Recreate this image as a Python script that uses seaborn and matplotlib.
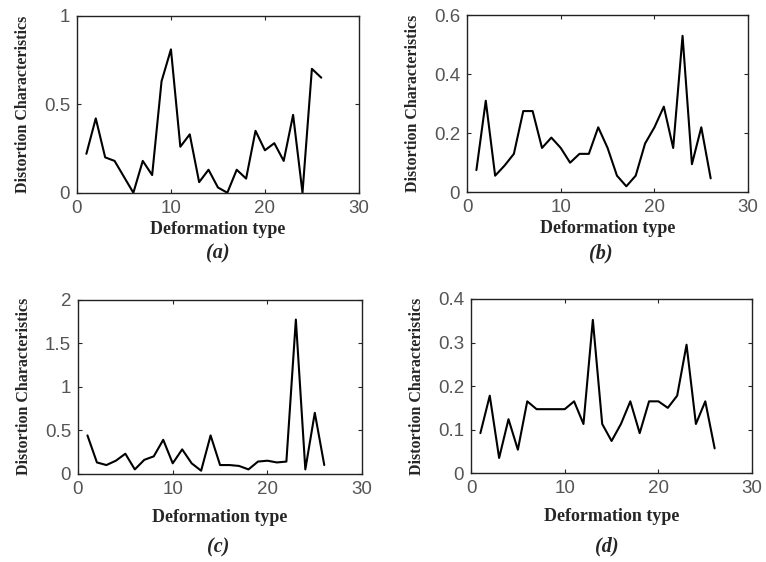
import matplotlib
matplotlib.use("Agg")
import matplotlib.pyplot as plt
from matplotlib.ticker import FuncFormatter, MultipleLocator
import seaborn as sns

### Data ###
deformation_type = list(range(1, 27))

values_a = [0.22, 0.42, 0.20, 0.18, 0.09, 0.00, 0.18, 0.10, 0.63, 0.81,
            0.26, 0.33, 0.06, 0.13, 0.03, 0.00, 0.13, 0.08, 0.35, 0.24,
            0.28, 0.18, 0.44, 0.00, 0.70, 0.65]
values_b = [0.075, 0.31, 0.056, 0.09, 0.13, 0.275, 0.275, 0.15, 0.185, 0.15,
            0.10, 0.13, 0.13, 0.22, 0.15, 0.056, 0.02, 0.056, 0.165, 0.22,
            0.29, 0.15, 0.53, 0.095, 0.22, 0.047]
values_c = [0.44, 0.13, 0.10, 0.15, 0.23, 0.05, 0.16, 0.20, 0.39, 0.12,
            0.28, 0.12, 0.035, 0.44, 0.10, 0.10, 0.09, 0.05, 0.14, 0.15,
            0.13, 0.14, 1.77, 0.05, 0.70, 0.10]
values_d = [0.092, 0.178, 0.035, 0.124, 0.054, 0.165, 0.147, 0.147, 0.147, 0.147,
            0.165, 0.113, 0.352, 0.113, 0.074, 0.113, 0.165, 0.092, 0.165, 0.165,
            0.15, 0.178, 0.295, 0.113, 0.165, 0.057]

panel_labels = ["(a)", "(b)", "(c)", "(d)"]
y_limits = [1.0, 0.6, 2.0, 0.4]
y_steps = [0.5, 0.2, 0.5, 0.1]

sns.set_style("ticks")
plt.rcParams['font.family'] = ['Liberation Sans', 'DejaVu Sans']

fig = plt.figure(figsize=(7.66, 5.62), dpi=100)

# axes boxes in figure fractions (left, bottom, width, height)
boxes = [
    [0.1005, 0.657, 0.368, 0.315],
    [0.6097, 0.658, 0.367, 0.315],
    [0.1018, 0.157, 0.371, 0.310],
    [0.6149, 0.158, 0.367, 0.310],
]
label_pos = [(0.284, 0.549), (0.785, 0.549), (0.285, 0.025), (0.792, 0.027)]
xlabel_pads = [3, 3, 8, 8]

all_values = [values_a, values_b, values_c, values_d]
serif = ['Liberation Serif', 'DejaVu Serif']

for box, vals, ymax, ystep, lab, lpos, xpad in zip(boxes, all_values, y_limits, y_steps,
                                                   panel_labels, label_pos, xlabel_pads):
    ax = fig.add_axes(box)
    sns.lineplot(x=deformation_type, y=vals, ax=ax, color='black', linewidth=1.5, estimator=None)

    ax.set_xlim(0, 30)
    ax.set_ylim(0, ymax)
    ax.xaxis.set_major_locator(MultipleLocator(10))
    ax.yaxis.set_major_locator(MultipleLocator(ystep))
    ax.yaxis.set_major_formatter(FuncFormatter(lambda v, p: f"{v:g}"))

    ax.tick_params(direction='in', top=True, right=True, length=3, width=0.8,
                   labelsize=13.5, labelcolor='#555555', pad=5)
    for s in ax.spines.values():
        s.set_visible(True)
        s.set_color('#222222')
        s.set_linewidth(1.0)

    ax.set_xlabel("Deformation type", family=serif, fontweight='bold', fontsize=13, labelpad=xpad)
    ax.set_ylabel("Distortion Characteristics", family=serif, fontweight='bold', fontsize=11.5, labelpad=9)

    fig.text(lpos[0], lpos[1], lab, family=serif, fontweight='bold', style='italic',
             fontsize=14.5, ha='center', va='center')

plt.savefig("out.png", dpi=100)
